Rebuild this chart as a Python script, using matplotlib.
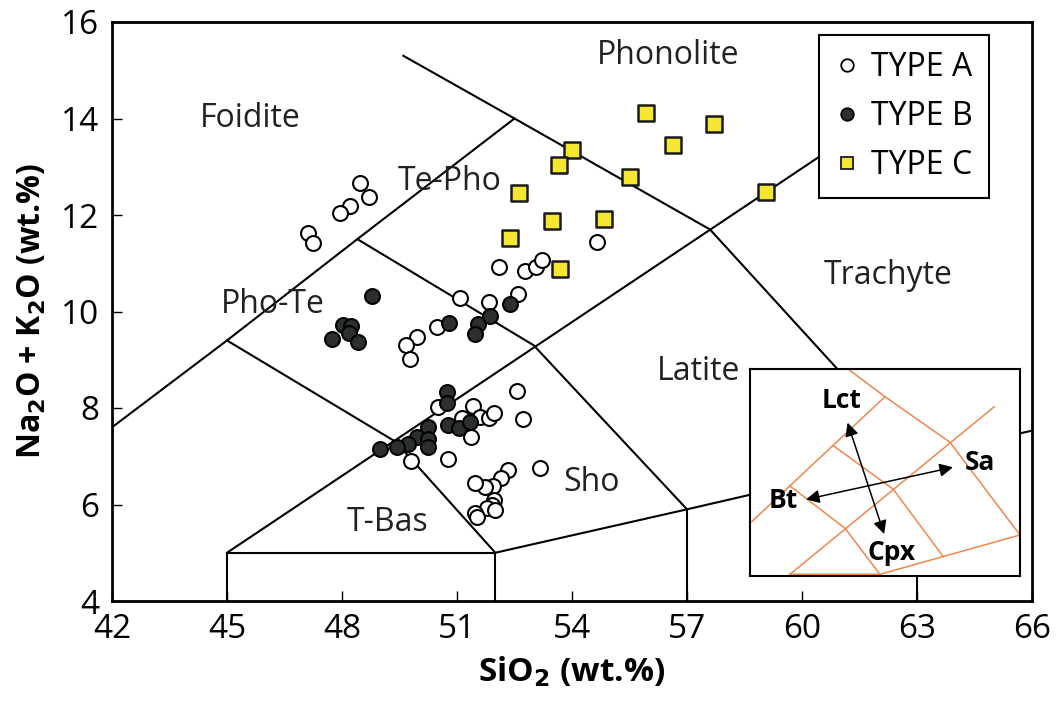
import matplotlib
matplotlib.use('Agg')
import matplotlib.pyplot as plt
from matplotlib.lines import Line2D

plt.rcParams['font.family'] = ['Open Sans', 'DejaVu Sans']

# --- sample data (SiO2, Na2O+K2O, wt.%) ---
type_a_sio2 = [48.47, 48.70, 48.21, 47.95, 47.11, 47.24, 52.10, 52.77, 53.06, 53.22,
               54.65, 51.08, 51.84, 52.59, 50.48, 49.96, 49.67, 49.77, 52.57, 50.50,
               51.42, 51.13, 51.60, 51.84, 51.97, 52.72, 51.37, 49.80, 50.77, 53.17,
               52.33, 52.15, 51.94, 51.73, 51.47, 51.97, 51.91, 51.78, 51.99, 51.47, 51.52]
type_a_alk = [12.66, 12.37, 12.18, 12.05, 11.62, 11.43, 10.93, 10.83, 10.93, 11.06,
              11.45, 10.29, 10.19, 10.37, 9.67, 9.48, 9.31, 9.02, 8.36, 8.03,
              8.05, 7.80, 7.82, 7.80, 7.90, 7.78, 7.40, 6.91, 6.95, 6.76,
              6.72, 6.55, 6.39, 6.37, 6.45, 6.10, 5.99, 5.93, 5.89, 5.83, 5.74]

type_b_sio2 = [48.78, 48.03, 48.24, 48.18, 47.74, 48.42, 50.79, 51.55, 51.47, 51.86,
               52.38, 50.74, 50.74, 50.24, 49.96, 50.24, 50.24, 49.72, 49.43, 48.99,
               50.77, 51.05, 51.34]
type_b_alk = [10.33, 9.73, 9.69, 9.56, 9.44, 9.36, 9.77, 9.75, 9.54, 9.90,
              10.15, 8.34, 8.11, 7.61, 7.40, 7.36, 7.20, 7.26, 7.20, 7.16,
              7.65, 7.59, 7.72]

type_c_sio2 = [55.93, 57.70, 56.64, 54.00, 53.66, 55.51, 59.06, 52.62, 53.48, 54.84, 52.38, 53.69]
type_c_alk = [14.11, 13.88, 13.45, 13.34, 13.03, 12.78, 12.47, 12.45, 11.87, 11.91, 11.52, 10.89]

# --- TAS field boundaries ---
tas_lines = [
    [(42, 7.6), (45, 9.4), (48.4, 11.5), (52.5, 14), (49.6, 15.3)],
    [(45, 4), (45, 5), (52, 5), (52, 4)],
    [(45, 5), (61, 13.5)],
    [(45, 9.4), (49.4, 7.3), (52, 5)],
    [(48.4, 11.5), (53, 9.3), (57, 5.9), (57, 4)],
    [(52.5, 14), (57.6, 11.7), (63, 7), (63, 4)],
    [(52, 5), (57, 5.9), (63, 7), (66, 7.53)],
]

field_names = ['Foidite', 'Phonolite', 'Te-Pho', 'Pho-Te', 'Trachyte', 'Latite', 'Sho', 'T-Bas']
field_x = [45.6, 56.5, 50.8, 46.2, 62.25, 57.3, 54.5, 49.2]
field_y = [14.0, 15.3, 12.7, 10.15, 10.75, 8.75, 6.45, 5.63]

# --- inset sketch (inset box units, y down) ---
inset_lines = [
    [(98, 0), (135, 27.7), (200, 73.3), (270, 166)],
    [(1.7, 152.7), (135, 27.7)],
    [(244.3, 37.7), (40, 205.3)],
    [(83.3, 76.7), (143.3, 120.3), (193.3, 187.7)],
    [(40, 117), (95, 159.3), (130, 205.3)],
    [(40, 205.3), (130, 205.3), (270, 166)],
]
inset_names = ['Lct', 'Bt', 'Sa', 'Cpx']
inset_lx = [92, 33, 230, 142]
inset_ly = [31, 132, 93, 183]

fig = plt.figure(figsize=(10.56, 7.07), dpi=100)
ax = fig.add_axes([112 / 1056, 1 - 601 / 707, 920 / 1056, 579 / 707])

for seg in tas_lines:
    xs, ys = zip(*seg)
    ax.plot(xs, ys, color='black', lw=1.5, zorder=1)

for name, x, y in zip(field_names, field_x, field_y):
    ax.text(x, y, name, fontsize=23, ha='center', va='center', color='#222222')

ax.scatter(type_a_sio2, type_a_alk, s=115, facecolor='white', edgecolor='black', lw=1.5, zorder=3)
ax.scatter(type_b_sio2, type_b_alk, s=115, facecolor='#2b302d', edgecolor='black', lw=1.5, zorder=3)
ax.scatter(type_c_sio2, type_c_alk, s=130, marker='s', facecolor='#f5e630', edgecolor='#1a1a1a',
           lw=1.8, zorder=3)

ax.set_xlim(42, 66)
ax.set_ylim(4, 16)
ax.set_xticks(range(42, 67, 3))
ax.set_yticks(range(4, 17, 2))
ax.tick_params(direction='in', length=7, width=1, labelsize=24, pad=9)
for sp in ax.spines.values():
    sp.set_linewidth(2)
ax.set_xlabel('SiO$_\\mathbf{2}$ (wt.%)', fontsize=24, fontweight='bold', labelpad=6)
ax.set_ylabel('Na$_\\mathbf{2}$O + K$_\\mathbf{2}$O (wt.%)', fontsize=23, fontweight='bold', labelpad=9)

handles = [
    Line2D([], [], ls='', marker='o', ms=9, mfc='white', mec='black', mew=1.3),
    Line2D([], [], ls='', marker='o', ms=9, mfc='#2b302d', mec='black', mew=1.3),
    Line2D([], [], ls='', marker='s', ms=9, mfc='#f5e630', mec='#1a1a1a', mew=1.3),
]
leg = ax.legend(handles, ['TYPE A', 'TYPE B', 'TYPE C'], loc='upper right',
                bbox_to_anchor=(989 / 1056, 1 - 35 / 707), bbox_transform=fig.transFigure,
                fontsize=23, frameon=True, fancybox=False, framealpha=1, handlelength=0.8,
                handletextpad=0.35, labelspacing=0.5, borderpad=0.5, borderaxespad=0)
leg.get_frame().set_edgecolor('black')
leg.get_frame().set_linewidth(1.5)
leg.set_zorder(5)

# inset
iax = fig.add_axes([750 / 1056, 1 - 576 / 707, 270 / 1056, 207 / 707])
iax.set_xlim(0, 270)
iax.set_ylim(207, 0)
iax.set_xticks([])
iax.set_yticks([])
for sp in iax.spines.values():
    sp.set_linewidth(1.5)
for seg in inset_lines:
    xs, ys = zip(*seg)
    iax.plot(xs, ys, color='#f0874a', lw=1.1)
iax.annotate('', xy=(96.7, 51), xytext=(135, 167.7),
             arrowprops=dict(arrowstyle='<|-|>', color='black', lw=1.1, mutation_scale=20))
iax.annotate('', xy=(53.3, 131), xytext=(205.7, 97.7),
             arrowprops=dict(arrowstyle='<|-|>', color='black', lw=1.1, mutation_scale=20))
for name, x, y in zip(inset_names, inset_lx, inset_ly):
    iax.text(x, y, name, fontsize=19, fontweight='bold', ha='center', va='center')

fig.savefig('out.png', dpi=100)
